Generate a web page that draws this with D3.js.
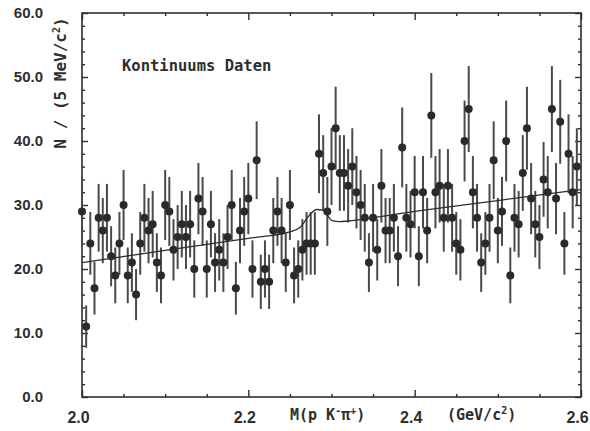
<!DOCTYPE html>
<html>
<head>
<meta charset="utf-8">
<script src="https://cdn.jsdelivr.net/npm/d3@7"></script>
<style>
  body { margin: 0; background: #fff; }
  svg { display: block; }
  .lbl { font-family: "Liberation Sans", Arial, sans-serif; font-weight: bold; fill: #2e2e2e; }
  .mono { font-family: "DejaVu Sans Mono", "Liberation Mono", monospace; font-weight: bold; fill: #2e2e2e; }
</style>
</head>
<body>
<div id="chart"></div>
<script>
// counts per 5 MeV bin, bins start at 2.000 GeV
var binStart = 2.0, binWidth = 0.005;
var counts = [
  29, 11, 24, 17, 28, 26, 28, 22, 19, 24,
  30, 19, 21, 16, 24, 28, 26, 27, 21, 19,
  30, 29, 23, 25, 27, 25, 27, 20, 31, 29,
  20, 27, 21, 23, 21, 25, 30, 17, 26, 29,
  31, 20, 37, 18, 20, 18, 26, 29, 26, 21,
  30, 19, 20, 23, 24, 24, 24, 38, 35, 29,
  36, 42, 35, 35, 33, 36, 32, 30, 28, 21,
  28, 23, 33, 26, 26, 28, 22, 39, 28, 27,
  32, 22, 32, 26, 44, 32, 33, 28, 33, 28,
  24, 23, 40, 45, 32, 28, 21, 24, 28, 37,
  26, 29, 40, 19, 28, 27, 35, 42, 31, 27,
  25, 34, 32, 45, 31, 43, 24, 38, 32, 36
];

// fitted curve
var fitMass = [2.0, 2.1, 2.2, 2.25, 2.262, 2.274, 2.282, 2.29, 2.296, 2.30, 2.31, 2.32, 2.4, 2.5, 2.6];
var fitN    = [21.0, 22.9, 24.8, 25.8, 26.5, 28.5, 29.3, 29.2, 28.2, 27.6, 27.4, 27.5, 29.0, 30.7, 32.4];

var xMajor = [2.0, 2.2, 2.4, 2.6];
var xMinor = [2.05, 2.1, 2.15, 2.25, 2.3, 2.35, 2.45, 2.5, 2.55];
var yMajor = [0, 10, 20, 30, 40, 50, 60];
var yMinor = [2, 4, 6, 8, 12, 14, 16, 18, 22, 24, 26, 28, 32, 34, 36, 38, 42, 44, 46, 48, 52, 54, 56, 58];

var W = 590, H = 431;
var padL = 82, padR = 581, padT = 13, padB = 397;

var svg = d3.select('#chart').append('svg')
    .attr('width', W)
    .attr('height', H);

var x = d3.scaleLinear().domain([2.0, 2.6]).range([padL, padR]);
var y = d3.scaleLinear().domain([0, 60]).range([padB, padT]);

var ink = '#2e2e2e';

function styleAxis(g) {
  g.select('.domain').remove();
  g.selectAll('.tick line').attr('stroke', ink).attr('stroke-width', 1.4);
}

// x axes (bottom + top), ticks inward
svg.append('g').attr('transform', 'translate(0,' + padB + ')')
    .call(d3.axisBottom(x).tickValues(xMinor).tickSize(-3).tickFormat(''))
    .call(styleAxis);
svg.append('g').attr('transform', 'translate(0,' + padB + ')')
    .call(d3.axisBottom(x).tickValues(xMajor).tickSize(-7).tickPadding(15).tickFormat(d3.format('.1f')))
    .call(styleAxis)
    .call(function(g) {
      g.selectAll('text').attr('class', 'lbl').attr('font-size', 16).attr('dx', -4).attr('fill', ink);
    });
svg.append('g').attr('transform', 'translate(0,' + padT + ')')
    .call(d3.axisTop(x).tickValues(xMinor).tickSize(-3).tickFormat(''))
    .call(styleAxis);
svg.append('g').attr('transform', 'translate(0,' + padT + ')')
    .call(d3.axisTop(x).tickValues(xMajor).tickSize(-7).tickFormat(''))
    .call(styleAxis);

// y axes (left + right)
svg.append('g').attr('transform', 'translate(' + padL + ',0)')
    .call(d3.axisLeft(y).tickValues(yMinor).tickSize(-3).tickFormat(''))
    .call(styleAxis);
svg.append('g').attr('transform', 'translate(' + padL + ',0)')
    .call(d3.axisLeft(y).tickValues(yMajor).tickSize(-6).tickPadding(39).tickFormat(d3.format('.1f')))
    .call(styleAxis)
    .call(function(g) {
      g.selectAll('text').attr('class', 'lbl').attr('font-size', 15).attr('fill', ink);
    });
svg.append('g').attr('transform', 'translate(' + padR + ',0)')
    .call(d3.axisRight(y).tickValues(yMinor).tickSize(-3).tickFormat(''))
    .call(styleAxis);
svg.append('g').attr('transform', 'translate(' + padR + ',0)')
    .call(d3.axisRight(y).tickValues(yMajor).tickSize(-6).tickFormat(''))
    .call(styleAxis);

// frame
svg.append('rect')
    .attr('x', padL).attr('y', padT)
    .attr('width', padR - padL).attr('height', padB - padT)
    .attr('fill', 'none').attr('stroke', ink).attr('stroke-width', 1.6);

var pts = counts.map(function(n, i) { return { m: binStart + i * binWidth, n: n }; });

// error bars (sqrt N)
svg.append('g').selectAll('line').data(pts).enter().append('line')
    .attr('x1', function(d) { return x(d.m); })
    .attr('x2', function(d) { return x(d.m); })
    .attr('y1', function(d) { return y(d.n - Math.sqrt(d.n)); })
    .attr('y2', function(d) { return y(d.n + Math.sqrt(d.n)); })
    .attr('stroke', '#4a4a4a')
    .attr('stroke-width', 2);

// fit curve
var line = d3.line()
    .x(function(d, i) { return x(fitMass[i]); })
    .y(function(d) { return y(d); })
    .curve(d3.curveMonotoneX);
svg.append('path')
    .datum(fitN)
    .attr('d', line)
    .attr('fill', 'none')
    .attr('stroke', ink)
    .attr('stroke-width', 1.3);

// points
svg.append('g').selectAll('circle').data(pts).enter().append('circle')
    .attr('cx', function(d) { return x(d.m); })
    .attr('cy', function(d) { return y(d.n); })
    .attr('r', 4)
    .attr('fill', '#2a2a2a');

// texts
svg.append('text').attr('class', 'mono').attr('font-size', 15.5)
    .attr('x', 122).attr('y', 71)
    .text('Kontinuums Daten');

var yt = svg.append('text').attr('class', 'mono').attr('font-size', 16)
    .attr('transform', 'translate(66,83) rotate(-90)')
    .attr('text-anchor', 'middle');
yt.append('tspan').text('N / (5 MeV/c');
yt.append('tspan').attr('font-size', 10).attr('dy', -6).text('2');
yt.append('tspan').attr('dy', 6).text(')');

var xt = svg.append('text').attr('class', 'mono').attr('font-size', 15)
    .attr('x', 290).attr('y', 420);
xt.append('tspan').text('M(p K');
xt.append('tspan').attr('font-size', 10).attr('dy', -6).text('-');
xt.append('tspan').attr('dy', 6).text('\u03c0');
xt.append('tspan').attr('font-size', 10).attr('dy', -6).text('+');
xt.append('tspan').attr('dy', 6).text(')');

var ut = svg.append('text').attr('class', 'mono').attr('font-size', 15)
    .attr('x', 447).attr('y', 420);
ut.append('tspan').text('(GeV/c');
ut.append('tspan').attr('font-size', 10).attr('dy', -6).text('2');
ut.append('tspan').attr('dy', 6).text(')');
</script>
</body>
</html>
